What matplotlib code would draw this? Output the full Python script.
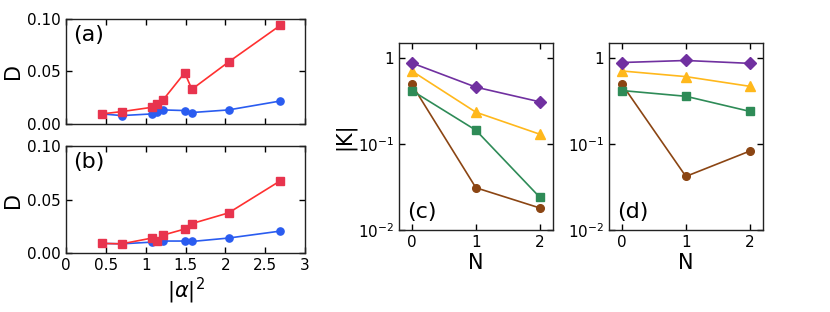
import numpy as np
from matplotlib import pyplot as plt
from matplotlib.ticker import FixedLocator, FixedFormatter

# |alpha|^2 values shared by (a) and (b)
alpha2 = [0.45, 0.70, 1.08, 1.14, 1.22, 1.49, 1.58, 2.04, 2.69]

# panel (a)
Da_red = [0.0095, 0.0117, 0.0158, 0.0193, 0.0230, 0.0487, 0.0330, 0.0590, 0.0940]
Da_blue = [0.0095, 0.0079, 0.0095, 0.0114, 0.0133, 0.0127, 0.0108, 0.0133, 0.0218]
# panel (b)
Db_red = [0.0090, 0.0086, 0.0140, 0.0115, 0.0168, 0.0224, 0.0275, 0.0375, 0.0675]
Db_blue = [0.0090, 0.0086, 0.0102, 0.0110, 0.0112, 0.0112, 0.0108, 0.0140, 0.0205]

# panels (c) and (d): |K| versus N
N = [0, 1, 2]
Kc = {'purple': [0.88, 0.46, 0.31],
      'yellow': [0.71, 0.235, 0.13],
      'green': [0.42, 0.145, 0.0239],
      'brown': [0.495, 0.031, 0.018]}
Kd = {'purple': [0.89, 0.94, 0.87],
      'yellow': [0.71, 0.61, 0.47],
      'green': [0.42, 0.36, 0.24],
      'brown': [0.50, 0.042, 0.083]}

STYLE = {'purple': ('#7030a0', 'D', 6.0),
         'yellow': ('#ffb81c', '^', 6.5),
         'green': ('#2e8b57', 's', 5.5),
         'brown': ('#8b4513', 'o', 5.5)}
ORDER = ['brown', 'green', 'yellow', 'purple']

plt.rcParams['font.family'] = 'DejaVu Sans'

fig = plt.figure(figsize=(8.3, 3.12), dpi=100)
ax_a = fig.add_axes([0.0795, 0.603, 0.288, 0.336])
ax_b = fig.add_axes([0.0795, 0.189, 0.288, 0.343])
ax_c = fig.add_axes([0.4807, 0.263, 0.1853, 0.599])
ax_d = fig.add_axes([0.7337, 0.263, 0.1853, 0.599])


def style_ax(ax):
    ax.tick_params(direction='in', top=True, right=True, labelsize=11,
                   length=4, width=1)
    ax.tick_params(which='minor', length=0)
    for s in ax.spines.values():
        s.set_linewidth(1.0)
        s.set_color('#222222')


xt = [0, 0.5, 1, 1.5, 2, 2.5, 3]
xtl = ['0', '0.5', '1', '1.5', '2', '2.5', '3']
for ax, red, blue, lab in [(ax_a, Da_red, Da_blue, '(a)'), (ax_b, Db_red, Db_blue, '(b)')]:
    ax.plot(alpha2, blue, '-o', color='#2a5cf0', mfc='#2a5cf0', mec='#2a5cf0',
            ms=5.2, lw=1.2)
    ax.plot(alpha2, red, '-s', color='#ff3030', mfc='#e8344e', mec='#e8344e',
            ms=5.8, lw=1.2)
    ax.set_xlim(0, 3)
    ax.set_ylim(0, 0.1)
    ax.set_yticks([0, 0.05, 0.1])
    ax.set_yticklabels(['0.00', '0.05', '0.10'])
    ax.set_xticks(xt)
    ax.set_ylabel('D', fontsize=15, labelpad=3)
    ax.text(0.03, 0.94, lab, transform=ax.transAxes, fontsize=16, va='top', ha='left')
    style_ax(ax)
ax_a.set_xticklabels([])
ax_b.set_xticklabels(xtl)
ax_b.set_xlabel(r'$|\alpha|^2$', fontsize=15, labelpad=2)

for ax, K, lab in [(ax_c, Kc, '(c)'), (ax_d, Kd, '(d)')]:
    for key in ORDER:
        c, m, ms = STYLE[key]
        ax.plot(N, K[key], '-', marker=m, color=c, mfc=c, mec=c, ms=ms, lw=1.2)
    ax.set_yscale('log')
    ax.set_ylim(0.01, 1.5)
    ax.set_xlim(-0.2, 2.2)
    ax.set_xticks(N)
    ax.yaxis.set_major_locator(FixedLocator([0.01, 0.1, 1]))
    ax.yaxis.set_major_formatter(FixedFormatter([r'$10^{-2}$', r'$10^{-1}$', '1']))
    ax.set_xlabel('N', fontsize=15, labelpad=2)
    ax.text(0.05, 0.04, lab, transform=ax.transAxes, fontsize=16, va='bottom', ha='left')
    style_ax(ax)
ax_c.set_ylabel('|K|', fontsize=15, labelpad=2)

plt.savefig('out.png', dpi=100)
plt.close()
